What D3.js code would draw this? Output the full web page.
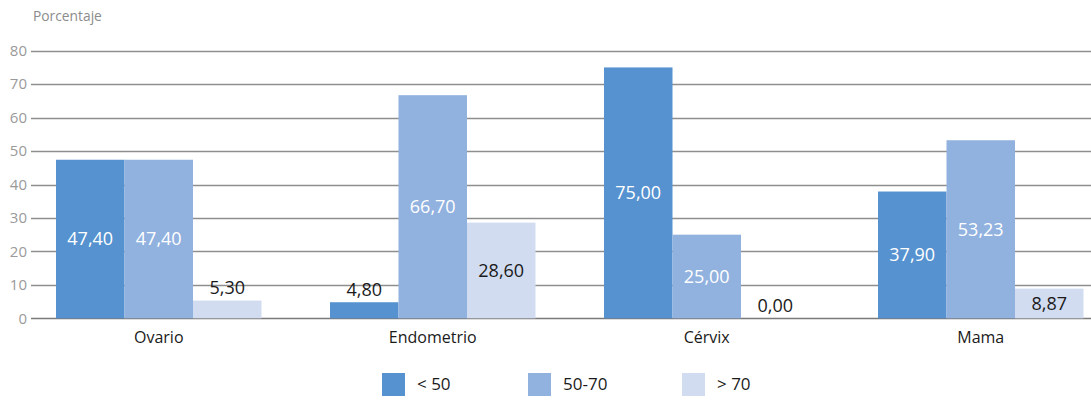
<!DOCTYPE html>
<html>
<head>
<meta charset="utf-8">
<script src="https://cdn.jsdelivr.net/npm/d3@7"></script>
<style>
  html, body { margin: 0; padding: 0; background: #fff; }
  svg { display: block; font-family: "Open Sans", "Noto Sans", sans-serif; }
</style>
</head>
<body>
<svg id="chart" width="1091" height="400"></svg>
<script>
// Percentage of cases by age group, per cancer site
const categories = ["Ovario", "Endometrio", "Cérvix", "Mama"];
const seriesNames = ["< 50", "50-70", "> 70"];
const under50 = [47.40, 4.80, 75.00, 37.90];
const from50to70 = [47.40, 66.70, 25.00, 53.23];
const over70 = [5.30, 28.60, 0.00, 8.87];
const yTicks = [0, 10, 20, 30, 40, 50, 60, 70, 80];

const seriesValues = [under50, from50to70, over70];
const colors = ["#5592cf", "#91b1df", "#d1dcf0"];
const labelColors = ["#ffffff", "#ffffff", "#1a1a1a"];

const svg = d3.select("#chart");
const width = 1091;

const y = d3.scaleLinear().domain([0, 80]).range([318.3, 50.7]);
const x = d3.scaleBand()
  .domain(categories)
  .range([21.75, 1117.75])
  .paddingInner(0.25)
  .paddingOuter(0.125);
const xs = d3.scaleBand()
  .domain(d3.range(seriesNames.length))
  .range([0, x.bandwidth()]);

// axis title
svg.append("text")
  .attr("x", 33).attr("y", 21)
  .attr("font-size", 13.8).attr("fill", "#8c8c8c")
  .text("Porcentaje");

// gridlines + tick labels
const yAxis = d3.axisLeft(y).tickValues(yTicks).tickSize(0).tickPadding(0);
const gAxis = svg.append("g").attr("transform", "translate(27,0)").call(yAxis);
gAxis.select(".domain").remove();
gAxis.selectAll("text")
  .attr("font-size", 15).attr("fill", "#9a9a9a")
  .attr("font-family", "\"Open Sans\", \"Noto Sans\", sans-serif");

svg.append("g").selectAll("line")
  .data(yTicks)
  .join("line")
  .attr("x1", 31).attr("x2", width)
  .attr("y1", d => Math.round(y(d)) + 0.5).attr("y2", d => Math.round(y(d)) + 0.5)
  .attr("stroke", d => d === 0 ? "#7a7a7a" : "#8e8e8e")
  .attr("stroke-width", 1.3);

// bars
const groups = svg.append("g").selectAll("g")
  .data(categories)
  .join("g")
  .attr("transform", d => `translate(${x(d)},0)`);

groups.selectAll("rect")
  .data((c, ci) => seriesValues.map((s, si) => ({ si, v: s[ci] })))
  .join("rect")
  .attr("x", d => xs(d.si))
  .attr("width", xs.bandwidth())
  .attr("y", d => y(d.v))
  .attr("height", d => y(0) - y(d.v))
  .attr("fill", d => colors[d.si]);

// value labels: centred in the bar when it has room, otherwise above it
const fmt = v => v.toFixed(2).replace(".", ",");
groups.selectAll("text.val")
  .data((c, ci) => seriesValues.map((s, si) => ({ si, v: s[ci] })))
  .join("text")
  .attr("class", "val")
  .attr("x", d => xs(d.si) + xs.bandwidth() / 2)
  .attr("y", d => {
    const h = y(0) - y(d.v);
    return h > 25 ? (y(d.v) + y(0)) / 2 : y(d.v) - 13;
  })
  .attr("dy", "0.35em")
  .attr("text-anchor", "middle")
  .attr("font-size", 18)
  .attr("fill", d => (y(0) - y(d.v) > 25) ? labelColors[d.si] : "#1a1a1a")
  .text(d => fmt(d.v));

// category labels
svg.append("g").selectAll("text")
  .data(categories)
  .join("text")
  .attr("x", d => x(d) + x.bandwidth() / 2)
  .attr("y", 337)
  .attr("dy", "0.35em")
  .attr("text-anchor", "middle")
  .attr("font-size", 16)
  .attr("fill", "#1a1a1a")
  .text(d => d);

// legend
const legendX = [382, 528, 682];
const legend = svg.append("g").selectAll("g")
  .data(seriesNames)
  .join("g")
  .attr("transform", (d, i) => `translate(${legendX[i]},373)`);
legend.append("rect")
  .attr("width", 23).attr("height", 23)
  .attr("fill", (d, i) => colors[i]);
legend.append("text")
  .attr("x", 35).attr("y", 11.5).attr("dy", "0.35em")
  .attr("font-size", 17).attr("fill", "#1a1a1a")
  .text(d => d);
</script>
</body>
</html>
